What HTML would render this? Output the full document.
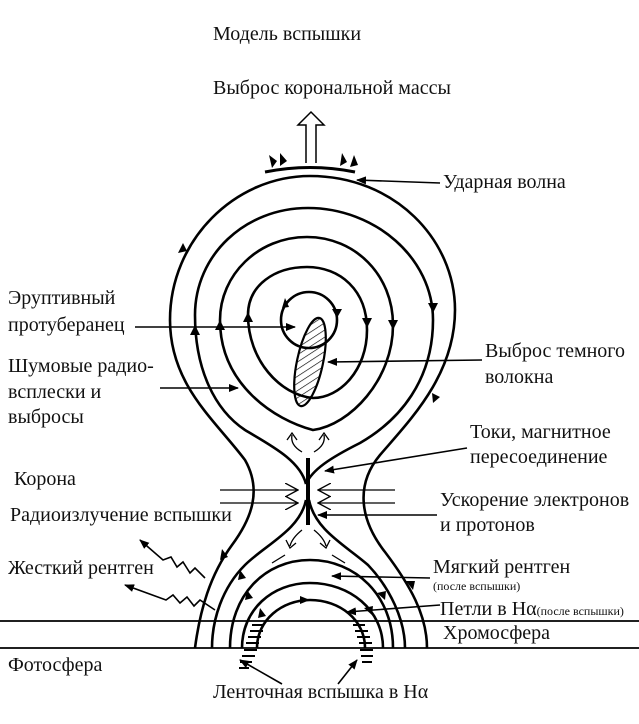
<!DOCTYPE html>
<html><head><meta charset="utf-8"><style>
html,body{margin:0;padding:0;background:#fff}
svg{display:block}
text{font-family:"Liberation Serif","Noto Serif CJK SC",serif;font-size:20px;fill:#111}
.s{font-size:12px}
</style></head><body>
<svg width="639" height="724" viewBox="0 0 639 724" xmlns="http://www.w3.org/2000/svg">
<defs>
<marker id="a" markerWidth="10" markerHeight="8" refX="9" refY="4" orient="auto" markerUnits="userSpaceOnUse"><path d="M0,0 L10,4 L0,8 Z" fill="#000"/></marker>
<marker id="o" markerWidth="14" markerHeight="14" refX="13" refY="7" orient="auto" markerUnits="userSpaceOnUse"><path d="M0,0 L13,7 L0,14" fill="none" stroke="#000" stroke-width="1.3"/></marker>
<pattern id="h" width="6" height="6" patternUnits="userSpaceOnUse" patternTransform="rotate(45)"><line x1="0" y1="0" x2="0" y2="6" stroke="#000" stroke-width="1.3"/></pattern>
</defs>
<g fill="none" stroke="#000" stroke-width="2.6">
<path d="M195,648 C200,610 210,575 232,545 C252,518 262,490 245,460 C215,420 170,385 170,320 C170,240 235,176 310,176 C395,176 455,240 455,310 C455,375 410,420 380,455 C355,485 360,520 385,552 C410,585 427,615 427,648"/>
<path d="M306,484 C300,460 270,445 245,430 C215,410 195,370 195,315 C195,255 245,208 308,208 C375,208 433,258 433,320 C433,380 400,420 360,443 C330,458 312,470 306,484"/>
<path d="M313,430 C275,420 220,385 220,320 C220,275 258,237 307,237 C355,237 393,275 393,325 C393,380 350,425 313,430 Z"/>
<path d="M313,398 C280,395 248,360 248,315 C248,285 275,267 307,267 C340,267 367,290 367,330 C367,370 340,398 313,398 Z"/>
<circle cx="309" cy="320" r="28"/>
<path d="M306,500 C300,530 265,545 245,565 C222,588 212,620 212,648"/>
<path d="M309,500 C315,530 345,545 368,565 C390,588 405,620 405,648"/>
<path d="M230,648 C230,595 265,560 310,560 C355,560 393,595 393,648"/>
<path d="M242,648 C242,610 272,583 310,583 C350,583 383,610 383,648"/>
<path d="M257,648 C257,620 282,600 310,600 C340,600 365,620 365,648"/>
</g>
<line x1="308" y1="458" x2="308" y2="525" stroke="#000" stroke-width="4"/>
<ellipse cx="310" cy="362" rx="13" ry="45" transform="rotate(12 310 362)" fill="url(#h)" stroke="#000" stroke-width="2.2"/>
<g fill="#000">
<path d="M183,243 l-5,10 l9,-2 z"/><path d="M195,325 l-5,10 l10,0 z"/><path d="M220,320 l-5,10 l10,0 z"/><path d="M248,312 l-5,10 l10,0 z"/>
<path d="M433,313 l-5,-10 l10,0 z"/><path d="M393,330 l-5,-10 l10,0 z"/><path d="M367,328 l-5,-10 l10,0 z"/>
<path d="M433,403 l-1,-10 l8,4 z"/><path d="M282,308 l3,-10 l4,9 z"/><path d="M337,318 l-5,-9 l10,0 z"/>
<path d="M220,560 l2,-11 l6,8 z"/><path d="M413,590 l-7,-9 l9,0 z"/>
<path d="M238,580 l2,-10 l6,8 z"/><path d="M245,600 l2,-10 l6,8 z"/><path d="M258,618 l2,-10 l6,8 z"/>
<path d="M385,600 l-8,-7 l9,-2 z"/><path d="M372,615 l-8,-7 l9,-2 z"/><path d="M310,600 l-10,-4 l0,8 z"/>
</g>
<path d="M265,172 Q310,163 355,172" fill="none" stroke="#000" stroke-width="3"/>
<path d="M306,163 V125 H298 L311,112 L324,125 H316 V163" fill="#fff" stroke="#000" stroke-width="1.5"/>
<g fill="#000"><path d="M272,168 l-3,-13 l8,6 z"/><path d="M280,166 l0,-13 l7,8 z"/><path d="M340,166 l2,-13 l5,9 z"/><path d="M350,167 l4,-12 l4,10 z"/></g>
<g stroke="#000" stroke-width="1.6" fill="none" marker-end="url(#a)">
<line x1="440" y1="183" x2="357" y2="180"/>
<line x1="135" y1="327" x2="295" y2="327"/>
<line x1="160" y1="388" x2="238" y2="388"/>
<line x1="482" y1="360" x2="328" y2="362"/>
<line x1="467" y1="448" x2="325" y2="471"/>
<line x1="437" y1="515" x2="318" y2="515"/>
<line x1="430" y1="578" x2="332" y2="576"/>
<line x1="440" y1="605" x2="347" y2="612"/>
<line x1="282" y1="684" x2="240" y2="660"/>
<line x1="338" y1="684" x2="357" y2="660"/>
<polyline points="205,578 195,568 190,573 183,562 177,567 171,557 163,560 140,540"/>
<polyline points="215,610 200,600 194,606 187,597 180,603 173,595 166,600 125,585"/>
</g>
<g stroke="#000" stroke-width="1.2" fill="none" marker-end="url(#o)">
<line x1="220" y1="490" x2="298" y2="490"/><line x1="220" y1="503" x2="298" y2="503"/>
<line x1="395" y1="490" x2="318" y2="490"/><line x1="395" y1="503" x2="318" y2="503"/>
</g>
<g fill="none" stroke="#000" stroke-width="1.3">
<path d="M302,452 Q290,445 292,435 M287,440 L292,433 L297,440"/><path d="M314,452 Q326,445 324,435 M319,440 L324,433 L329,440"/>
<path d="M302,530 Q292,538 290,546 M286,540 L290,548 L296,543"/><path d="M314,530 Q324,538 326,546 M320,543 L326,548 L330,540"/>
<path d="M285,555 L272,563"/><path d="M332,555 L345,563"/>
</g>
<g stroke="#000" stroke-width="2">
<path d="M252,625 h12 M250,631 h13 M248,637 h13 M246,643 h13 M244,650 h13 M242,656 h13 M240,662 h12 M239,668 h10"/>
<path d="M353,625 h12 M355,631 h13 M357,637 h13 M359,643 h13 M360,650 h13 M361,656 h12 M362,662 h10"/>
</g>
<line x1="0" y1="621" x2="639" y2="621" stroke="#000" stroke-width="1.8"/>
<line x1="0" y1="648" x2="639" y2="648" stroke="#000" stroke-width="1.8"/>
<text x="213" y="40">Модель вспышки</text>
<text x="213" y="94">Выброс корональной массы</text>
<text x="443" y="188">Ударная волна</text>
<text x="8" y="304">Эруптивный</text>
<text x="8" y="331">протуберанец</text>
<text x="8" y="372">Шумовые радио-</text>
<text x="8" y="398">всплески и</text>
<text x="8" y="423">выбросы</text>
<text x="485" y="357">Выброс темного</text>
<text x="485" y="383">волокна</text>
<text x="470" y="438">Токи, магнитное</text>
<text x="470" y="463">пересоединение</text>
<text x="14" y="485">Корона</text>
<text x="10" y="521">Радиоизлучение вспышки</text>
<text x="440" y="506">Ускорение электронов</text>
<text x="440" y="531">и протонов</text>
<text x="8" y="574">Жесткий рентген</text>
<text x="433" y="573">Мягкий рентген</text>
<text x="433" y="590" class="s">(после вспышки)</text>
<text x="440" y="615">Петли в Hα<tspan class="s">(после вспышки)</tspan></text>
<text x="443" y="639">Хромосфера</text>
<text x="8" y="671">Фотосфера</text>
<text x="213" y="698">Ленточная вспышка в Hα</text>
</svg>
</body></html>
